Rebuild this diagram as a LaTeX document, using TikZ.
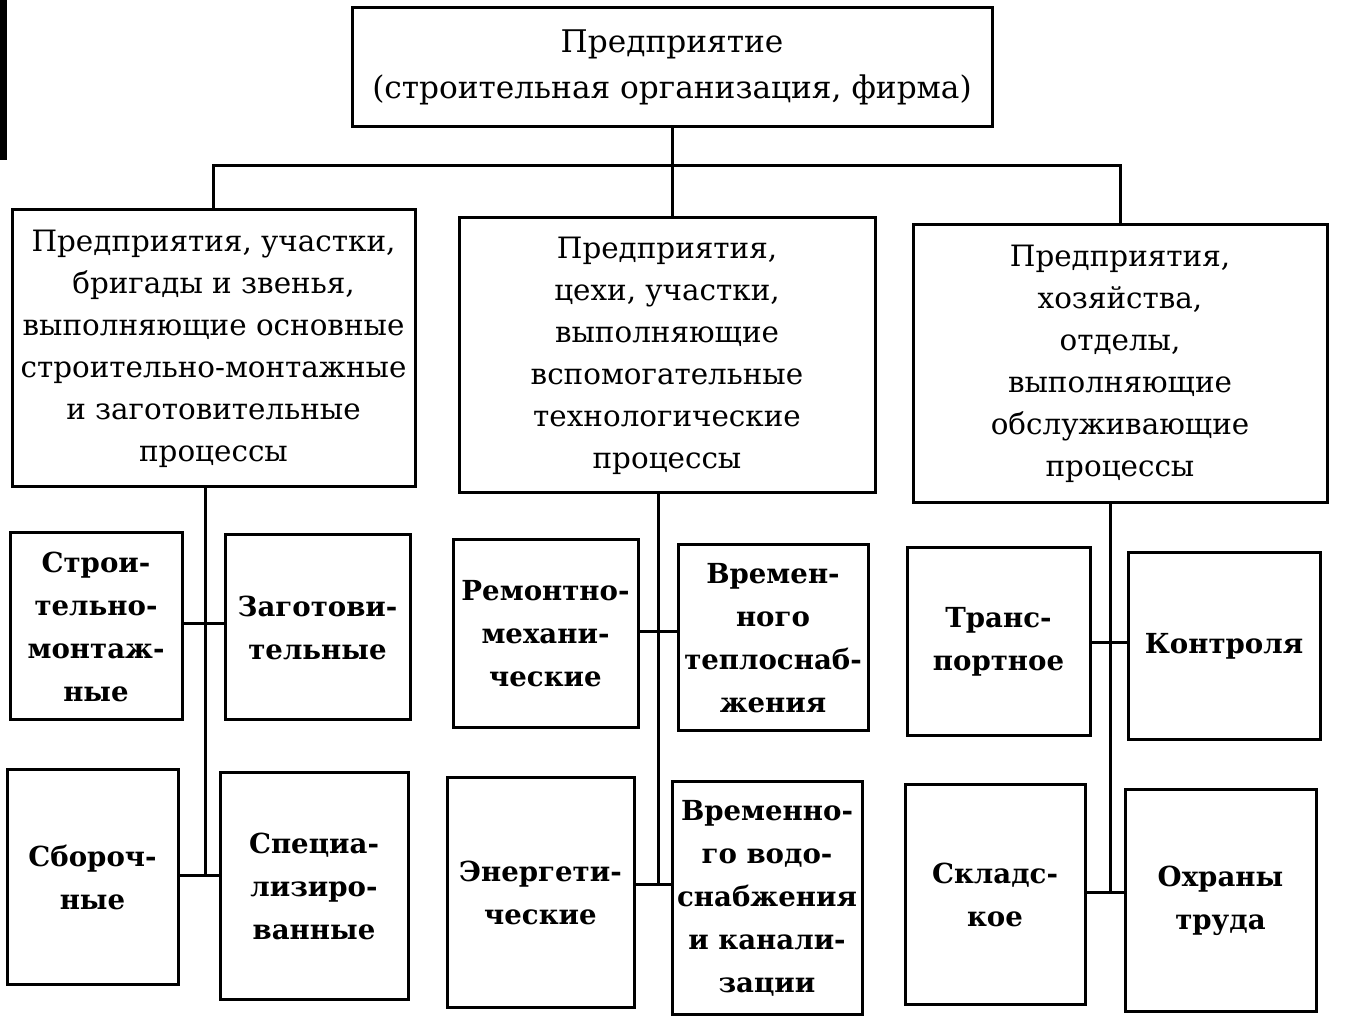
\documentclass[tikz,border=0pt]{standalone}
\usepackage{fontspec}
\setmainfont{DejaVu Serif}
\newcommand\mybox[7]{\node[#1, minimum width={(#5-#3)*0.5pt}, minimum height={(#6-#4)*0.5pt}] (#2) at ({(#3+#5)/2},{(#4+#6)/2}) {#7};}
\tikzset{
  bx/.style={draw, line width=1.5pt, inner sep=0pt, align=center, font=\bfseries\fontsize{13.8}{21.5}\selectfont},
  hd/.style={bx, font=\fontsize{14.7}{21}\selectfont},
  tp/.style={bx, font=\fontsize{15.6}{23}\selectfont},
  ln/.style={line width=1.5pt}
}
\begin{document}
\begin{tikzpicture}[x=0.5pt,y=-0.5pt]
\useasboundingbox (0,0) rectangle (1345,1036);
\fill (0,0) rectangle (7,160);
% top
\mybox{tp}{top}{352}{8}{992}{127}{Предприятие\\(строительная организация, фирма)}
% level 1
\mybox{hd}{L1}{12}{210}{415}{487}{Предприятия, участки,\\бригады и звенья,\\выполняющие основные\\строительно-монтажные\\и заготовительные\\процессы}
\mybox{hd}{L2}{459}{218}{875}{493}{Предприятия,\\цехи, участки,\\выполняющие\\вспомогательные\\технологические\\процессы}
\mybox{hd}{L3}{913}{225}{1327}{503}{Предприятия,\\хозяйства,\\отделы,\\выполняющие\\обслуживающие\\процессы}
% level 2, left
\mybox{bx}{A1}{10}{533}{182}{720}{Строи-\\тельно-\\монтаж-\\ные}
\mybox{bx}{B1}{225}{535}{410}{720}{Заготови-\\тельные}
\mybox{bx}{C1}{7}{770}{178}{985}{Сбороч-\\ные}
\mybox{bx}{D1}{220}{773}{408}{1000}{Специа-\\лизиро-\\ванные}
% level 2, middle
\mybox{bx}{A2}{453}{540}{638}{728}{Ремонтно-\\механи-\\ческие}
\mybox{bx}{B2}{678}{545}{868}{731}{Времен-\\ного\\теплоснаб-\\жения}
\mybox{bx}{C2}{447}{778}{634}{1008}{Энергети-\\ческие}
\mybox{bx}{D2}{672}{782}{862}{1015}{Временно-\\го водо-\\снабжения\\и канали-\\зации}
% level 2, right
\mybox{bx}{A3}{907}{548}{1090}{736}{Транс-\\портное}
\mybox{bx}{B3}{1128}{553}{1320}{740}{Контроля}
\mybox{bx}{C3}{905}{785}{1085}{1005}{Складс-\\кое}
\mybox{bx}{D3}{1125}{790}{1316}{1012}{Охраны\\труда}
% connectors top
\coordinate (j) at (672,166);
\draw[ln] (top.south) -- (top.south |- L2.north);
\draw[ln] (L1.north) |- (j) -| (L3.north);
% left column
\coordinate (h1) at (205,624);
\coordinate (s1) at (205,876);
\draw[ln] (L1.south -| s1) -- (s1);
\draw[ln] (A1.east |- h1) -- (B1.west |- h1);
\draw[ln] (C1.east |- s1) -- (D1.west |- s1);
% middle column
\coordinate (h2) at (658,632);
\coordinate (s2) at (658,885);
\draw[ln] (L2.south -| s2) -- (s2);
\draw[ln] (A2.east |- h2) -- (B2.west |- h2);
\draw[ln] (C2.east |- s2) -- (D2.west |- s2);
% right column
\coordinate (h3) at (1110,643);
\coordinate (s3) at (1110,893);
\draw[ln] (L3.south -| s3) -- (s3);
\draw[ln] (A3.east |- h3) -- (B3.west |- h3);
\draw[ln] (C3.east |- s3) -- (D3.west |- s3);
\end{tikzpicture}
\end{document}
